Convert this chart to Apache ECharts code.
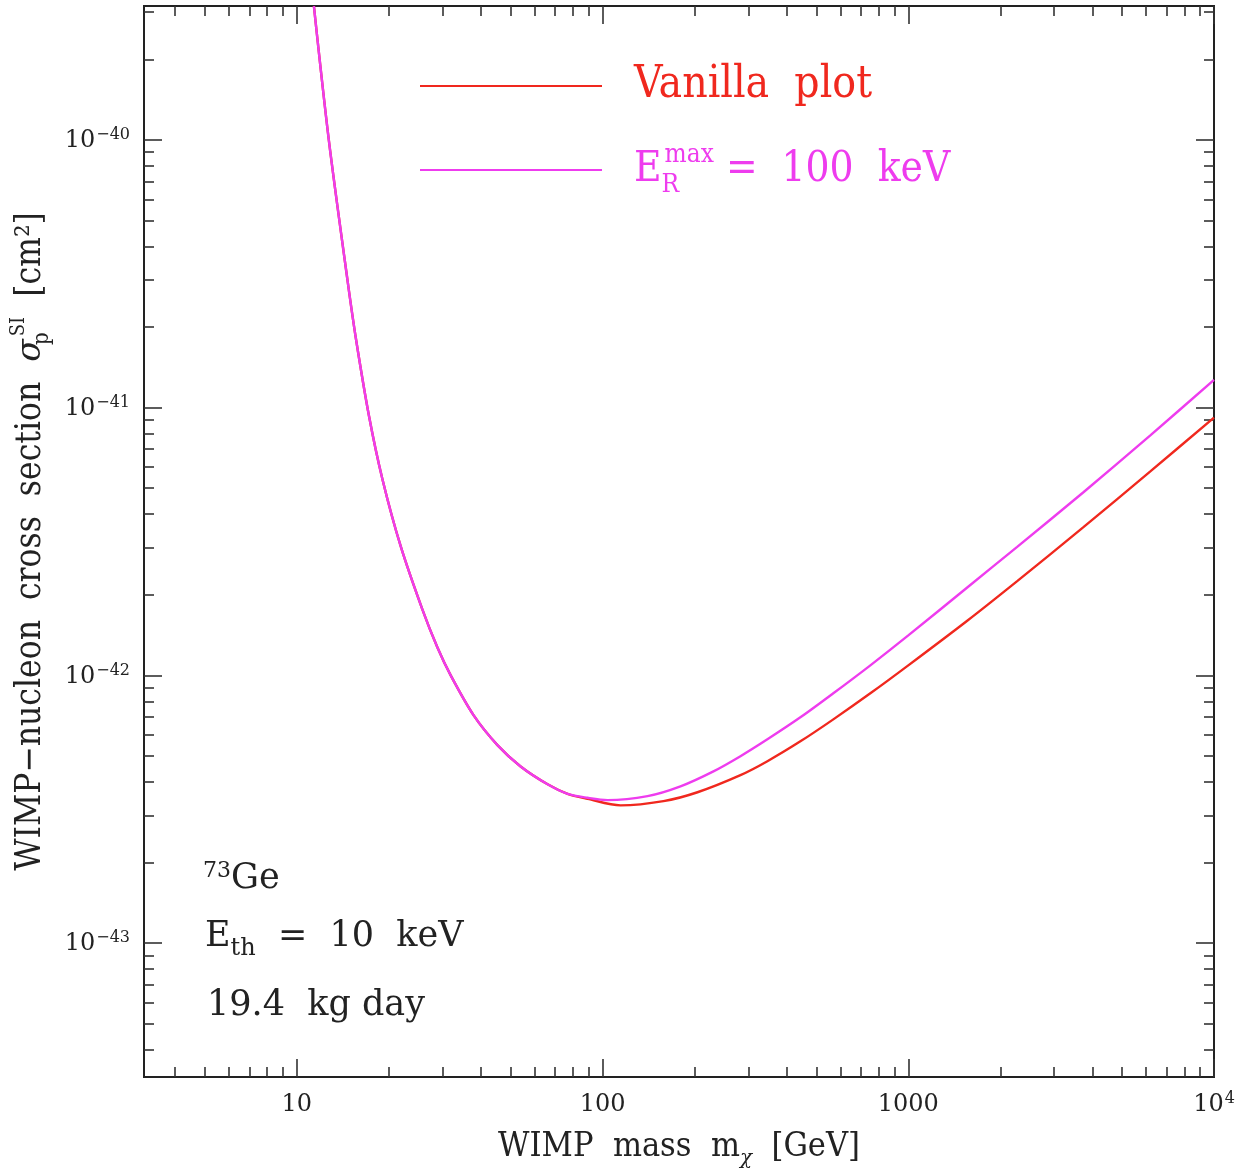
<!DOCTYPE html>
<html>
<head>
<meta charset="utf-8">
<script src="https://cdn.jsdelivr.net/npm/echarts@6/dist/echarts.min.js"></script>
<style>
  html, body { margin: 0; padding: 0; background: #ffffff; }
  #chart { width: 1243px; height: 1174px; }
</style>
</head>
<body>
<div id="chart"></div>
<script>
// WIMP mass [GeV] and spin-independent WIMP-nucleon cross section limit [cm^2]
const vanillaMass = [11.37, 12.72, 14.65, 15.59, 17.23, 19.06, 21.87, 25.75, 28.83, 31.86, 37.88, 45.38, 53.95, 66.11, 76.86,
  89.3, 114.5, 158.2, 204.4, 282.5, 346.1, 443.7, 568.6, 751.5, 1000, 1559, 2271, 3732, 6177, 10000];
const vanillaSigma = [3.16e-40, 1.00e-40, 2.98e-41, 1.82e-41, 9.26e-42, 5.39e-42, 3.03e-42, 1.76e-42, 1.27e-42, 1.00e-42, 7.09e-43, 5.48e-43, 4.57e-43, 3.92e-43, 3.61e-43,
  3.46e-43, 3.27e-43, 3.39e-43, 3.66e-43, 4.24e-43, 4.78e-43, 5.67e-43, 6.85e-43, 8.57e-43, 1.09e-42, 1.60e-42, 2.25e-42, 3.57e-42, 5.77e-42, 9.18e-42];

const erMaxMass = [11.37, 12.72, 14.65, 15.59, 17.23, 19.06, 21.87, 25.75, 28.83, 31.86, 37.88, 45.38, 53.95, 66.11, 76.86,
  89.3, 103.8, 140.3, 179.8, 230.5, 282.5, 346.1, 443.7, 568.6, 751.5, 1000, 1559, 2271, 3732, 6177, 10000];
const erMaxSigma = [3.16e-40, 1.00e-40, 2.98e-41, 1.82e-41, 9.26e-42, 5.39e-42, 3.03e-42, 1.76e-42, 1.27e-42, 1.00e-42, 7.09e-43, 5.48e-43, 4.57e-43, 3.92e-43, 3.61e-43,
  3.49e-43, 3.42e-43, 3.54e-43, 3.85e-43, 4.38e-43, 4.99e-43, 5.77e-43, 6.97e-43, 8.57e-43, 1.09e-42, 1.41e-42, 2.13e-42, 3.02e-42, 4.82e-42, 7.86e-42, 1.27e-41];

// Axis decades (log10) and their labels
const xDecades = [1, 2, 3, 4];
const xTickLabels = ['10', '100', '1000', '10^4'];
const yDecades = [-40, -41, -42, -43];
const yTickLabels = ['10^-40', '10^-41', '10^-42', '10^-43'];

const seriesNames = ['Vanilla plot', 'ER max = 100 keV'];

const X_RANGE = [0.5, 4];
const Y_RANGE = [-43.5, -39.5];
const RED = '#f0281e';
const MAGENTA = '#ee3cee';
const INK = '#222222';
const SERIF = '"DejaVu Serif", serif';
const NARROW = '"DejaVu Serif Condensed", "Liberation Serif", serif';

function minorTicks(lo, hi) {
  const out = [];
  for (let d = Math.floor(lo) - 1; d <= Math.ceil(hi); d++) {
    for (let k = 2; k <= 9; k++) {
      const v = d + Math.log10(k);
      if (v > lo && v < hi) out.push(v);
    }
  }
  return out;
}
const xMinor = minorTicks(X_RANGE[0], X_RANGE[1]);
const yMinor = minorTicks(Y_RANGE[0], Y_RANGE[1]);

function powLabel(txt) {
  const parts = txt.split('^');
  if (parts.length === 1) return '{b|' + txt + '}';
  return '{b|' + parts[0] + '}{sup|' + parts[1].replace('-', '\u2212') + '}';
}

const tickRich = {
  b: { fontFamily: SERIF, fontSize: 24, color: INK, lineHeight: 26, verticalAlign: 'bottom' },
  sup: { fontFamily: SERIF, fontSize: 16, color: INK, lineHeight: 26, verticalAlign: 'top', padding: [0, 0, 0, 1] }
};

function axisDef(kind, pos, ticks, len, labels) {
  const isX = kind === 'x';
  const range = isX ? X_RANGE : Y_RANGE;
  const decades = isX ? xDecades : yDecades;
  const names = isX ? xTickLabels : yTickLabels;
  const a = {
    type: 'value',
    position: pos,
    min: range[0],
    max: range[1],
    interval: 0.5,
    axisLine: { show: true, onZero: false, lineStyle: { color: INK, width: 2 } },
    axisTick: { show: true, inside: true, length: len, customValues: ticks, lineStyle: { color: '#333', width: 1.6 } },
    axisLabel: { show: false },
    splitLine: { show: false },
    axisPointer: { show: false }
  };
  if (labels) {
    a.axisLabel = {
      show: true,
      customValues: decades,
      margin: 14,
      formatter: function (v) {
        const i = decades.findIndex(d => Math.abs(d - v) < 1e-6);
        return i < 0 ? '' : powLabel(names[i]);
      },
      rich: tickRich
    };
  }
  return a;
}

const xAxes = [
  axisDef('x', 'bottom', xDecades, 18, true),
  axisDef('x', 'bottom', xMinor, 10, false),
  axisDef('x', 'top', xDecades, 18, false),
  axisDef('x', 'top', xMinor, 10, false)
];
const yAxes = [
  axisDef('y', 'left', yDecades, 18, true),
  axisDef('y', 'left', yMinor, 10, false),
  axisDef('y', 'right', yDecades, 18, false),
  axisDef('y', 'right', yMinor, 10, false)
];

// axis titles
xAxes[0].name = 'WIMP  mass  m{chi|\u03c7}  [GeV]';
xAxes[0].nameLocation = 'middle';
xAxes[0].nameGap = 48;
xAxes[0].nameTextStyle = {
  fontFamily: NARROW, fontSize: 34, color: INK, lineHeight: 36,
  rich: {
    chi: { fontFamily: SERIF, fontStyle: 'italic', fontSize: 20, color: INK, verticalAlign: 'bottom', lineHeight: 44 }
  }
};
yAxes[0].name = 'WIMP\u2212nucleon  cross  section  {sig|\u03c3}{p|p}{si|SI}  [cm\u00b2]';
yAxes[0].nameLocation = 'middle';
yAxes[0].nameRotate = 90;
yAxes[0].nameGap = 91;
yAxes[0].nameTextStyle = {
  fontFamily: NARROW, fontSize: 35, color: INK, lineHeight: 36,
  rich: {
    sig: { fontFamily: SERIF, fontStyle: 'italic', fontSize: 33, color: INK, lineHeight: 36 },
    p: { fontFamily: NARROW, fontSize: 22, color: INK, verticalAlign: 'bottom', lineHeight: 44, width: 1 },
    si: { fontFamily: NARROW, fontSize: 20, color: INK, verticalAlign: 'top', lineHeight: 44, padding: [0, 0, 0, 2] }
  }
};

function toPoints(ms, ss) {
  return ms.map((m, i) => [Math.log10(m), Math.log10(ss[i])]);
}

const legendBase = {
  orient: 'vertical',
  left: 420,
  icon: 'rect',
  itemWidth: 182,
  itemHeight: 2,
  selectedMode: false,
  padding: 0
};

const option = {
  backgroundColor: '#ffffff',
  animation: false,
  grid: { left: 144, right: 29, top: 6, bottom: 97, containLabel: false, outerBoundsMode: 'none' },
  xAxis: xAxes,
  yAxis: yAxes,
  legend: [
    Object.assign({}, legendBase, {
      top: 62,
      data: [{ name: seriesNames[0] }],
      formatter: function () { return 'Vanilla  plot'; },
      textStyle: { fontFamily: NARROW, fontSize: 44, lineHeight: 48, color: RED, padding: [0, 0, 0, 27] }
    }),
    Object.assign({}, legendBase, {
      top: 142,
      data: [{ name: seriesNames[1] }],
      formatter: function () { return '{e|E}{r|R}{m|max}{t| =  100  keV}'; },
      textStyle: {
        fontFamily: NARROW, fontSize: 42, lineHeight: 48, color: MAGENTA, padding: [0, 0, 0, 27],
        rich: {
          e: { fontFamily: NARROW, fontSize: 42, color: MAGENTA, lineHeight: 48 },
          r: { fontFamily: NARROW, fontSize: 26, color: MAGENTA, verticalAlign: 'bottom', lineHeight: 56, width: 1 },
          m: { fontFamily: NARROW, fontSize: 26, color: MAGENTA, verticalAlign: 'top', lineHeight: 48, padding: [0, 0, 0, 2] },
          t: { fontFamily: NARROW, fontSize: 42, color: MAGENTA, lineHeight: 48 }
        }
      }
    })
  ],
  series: [
    {
      name: seriesNames[0],
      type: 'line',
      xAxisIndex: 0,
      yAxisIndex: 0,
      data: toPoints(vanillaMass, vanillaSigma),
      showSymbol: false,
      symbol: 'none',
      smooth: 0.3,
      clip: true,
      color: RED,
      lineStyle: { color: RED, width: 2.4 },
      z: 3
    },
    {
      name: seriesNames[1],
      type: 'line',
      xAxisIndex: 0,
      yAxisIndex: 0,
      data: toPoints(erMaxMass, erMaxSigma),
      showSymbol: false,
      symbol: 'none',
      smooth: 0.3,
      clip: true,
      color: MAGENTA,
      lineStyle: { color: MAGENTA, width: 2.4 },
      z: 4
    }
  ],
  graphic: [
    {
      type: 'text', left: 203, top: 860,
      style: {
        text: '{sup|73}{b|Ge}',
        rich: {
          sup: { fontFamily: SERIF, fontSize: 22, fill: INK, verticalAlign: 'top', lineHeight: 38 },
          b: { fontFamily: SERIF, fontSize: 35, fill: INK, lineHeight: 38 }
        }
      }
    },
    {
      type: 'text', left: 205, top: 919,
      style: {
        text: '{b|E}{sub|th}{b|  =  10  keV}',
        rich: {
          b: { fontFamily: SERIF, fontSize: 35, fill: INK, lineHeight: 42, verticalAlign: 'top' },
          sub: { fontFamily: SERIF, fontSize: 24, fill: INK, lineHeight: 42, verticalAlign: 'bottom' }
        }
      }
    },
    {
      type: 'text', left: 207, top: 988,
      style: {
        text: '19.4  kg day',
        fontFamily: SERIF, fontSize: 35, fill: INK
      }
    }
  ]
};

const chart = echarts.init(document.getElementById('chart'), null, { renderer: 'canvas' });
chart.setOption(option);
</script>
</body>
</html>
